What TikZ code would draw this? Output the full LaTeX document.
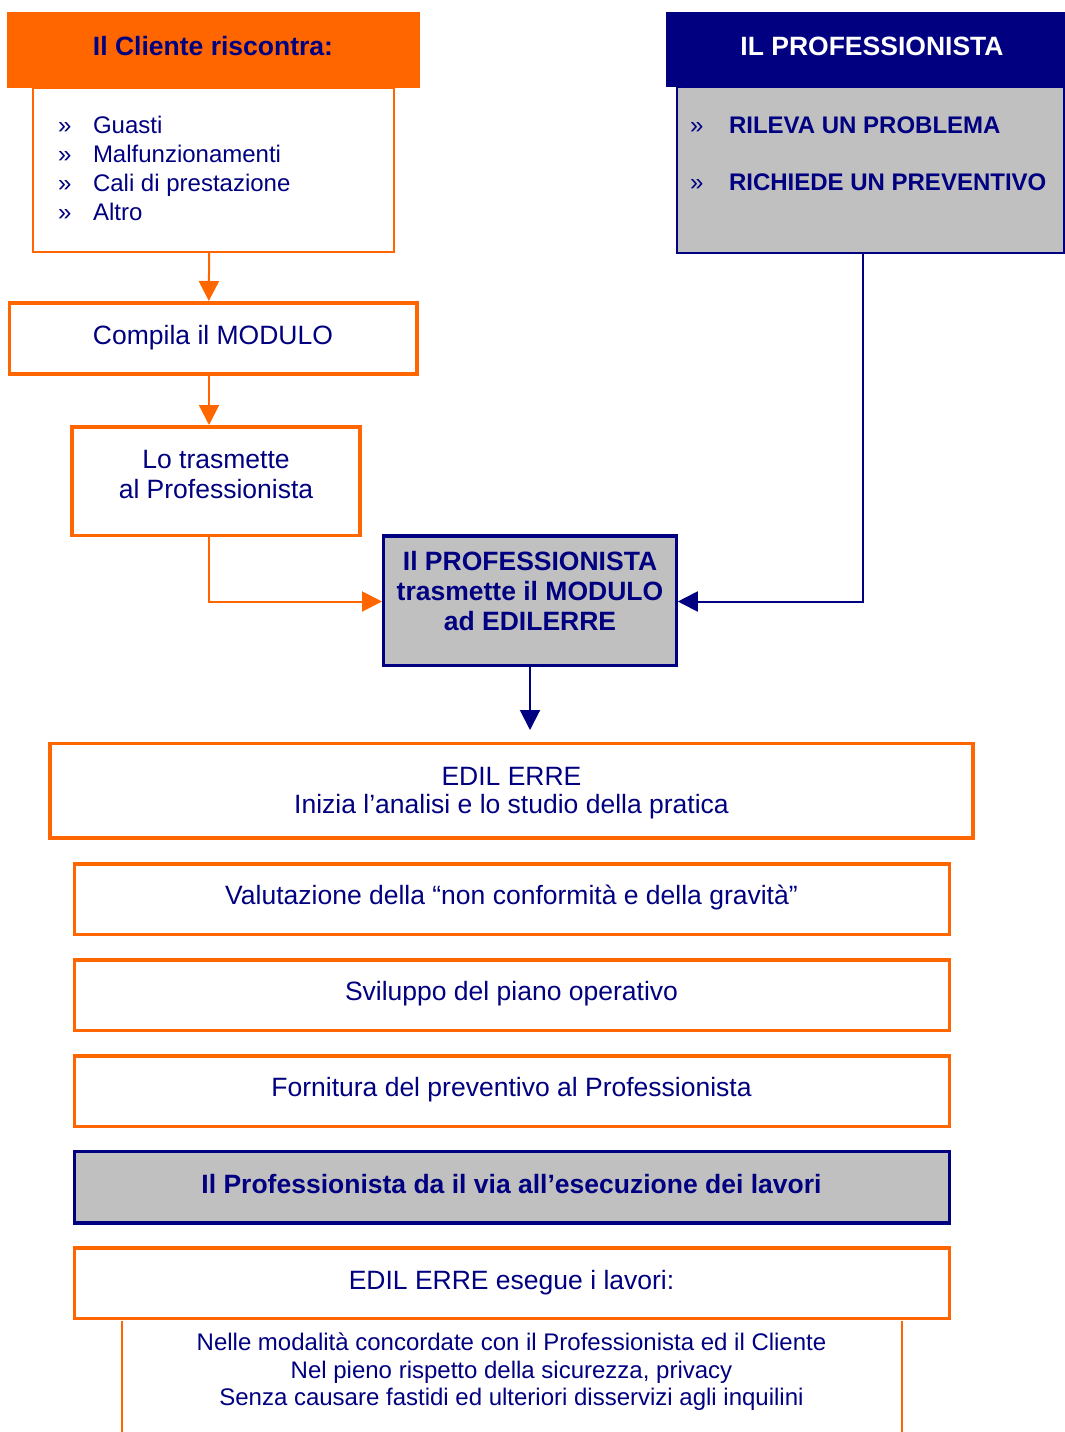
\documentclass[tikz,border=0pt]{standalone}
\usepackage{fontspec}
\setmainfont{Liberation Sans}
\usetikzlibrary{arrows.meta}
\definecolor{org}{HTML}{FF6600}
\definecolor{nav}{HTML}{000080}
\definecolor{gry}{HTML}{C0C0C0}
\begin{document}
\begin{tikzpicture}[x=1pt,y=-1pt,
  every node/.style={inner sep=0pt, outer sep=0pt},
  obox/.style={draw=org, line width=3.5pt, fill=white},
  nbox/.style={draw=nav, line width=3.5pt, fill=gry},
  txt/.style={anchor=base, text=nav, font=\fontsize{26.5}{30}\selectfont},
  btxt/.style={anchor=base, text=nav, font=\fontsize{26.5}{30}\selectfont\bfseries},
  stxt/.style={anchor=base, text=nav, font=\fontsize{24}{28}\selectfont},
  ltxt/.style={anchor=base west, text=nav, font=\fontsize{24}{29}\selectfont},
  lbtxt/.style={anchor=base west, text=nav, font=\fontsize{24}{29}\selectfont\bfseries},
  oarr/.style={org, line width=2pt, -{Triangle[width=20pt,length=20pt]}},
  narr/.style={nav, line width=2pt, -{Triangle[width=20pt,length=20pt]}}
]
\useasboundingbox (0,0) rectangle (1065,1432);

% ---- Cliente column
\node[draw=org, line width=2pt, fill=white, minimum width=360.7pt, minimum height=164.6pt] (list) at (213.7,170) {};
\node[fill=org, minimum width=412.7pt, minimum height=76pt] (chead) at (213.7,49.7) {};
\node[btxt] (cheadt) at (213,55) {Il Cliente riscontra:};
\node[ltxt] (b1) at (58,133) {»};
\node[ltxt] (l1) at (93,133) {Guasti};
\node[ltxt] (b2) at (58,162) {»};
\node[ltxt] (l2) at (93,162) {Malfunzionamenti};
\node[ltxt] (b3) at (58,191) {»};
\node[ltxt] (l3) at (93,191) {Cali di prestazione};
\node[ltxt] (b4) at (58,220) {»};
\node[ltxt] (l4) at (93,220) {Altro};

\node[obox, minimum width=407.5pt, minimum height=71pt] (comp) at (213.25,338.5) {};
\node[txt] (compt) at (213,344) {Compila il MODULO};

\node[obox, minimum width=288pt, minimum height=108.5pt] (lo) at (216,481.25) {};
\node[txt] (lot1) at (216,468.3) {Lo trasmette};
\node[txt] (lot2) at (216,498.3) {al Professionista};

% ---- Professionista column
\node[draw=nav, line width=1.7pt, fill=gry, minimum width=387.3pt, minimum height=165.4pt] (pbox) at (870.35,170) {};
\node[fill=nav, minimum width=400pt, minimum height=75.6pt] (phead) at (866,49.5) {};
\node[btxt, text=white] (pheadt) at (872,55) {IL PROFESSIONISTA};
\node[ltxt] (pb1) at (690,133.3) {»};
\node[lbtxt] (pl1) at (729,133.3) {RILEVA UN PROBLEMA};
\node[ltxt] (pb2) at (690,190.7) {»};
\node[lbtxt] (pl2) at (729,190.7) {RICHIEDE UN PREVENTIVO};

% ---- central box
\node[nbox, minimum width=292.8pt, minimum height=129.5pt] (ctr) at (529.9,600.75) {};
\node[btxt] (ctr1) at (530,570) {Il PROFESSIONISTA};
\node[btxt] (ctr2) at (530,600) {trasmette il MODULO};
\node[btxt] (ctr3) at (530,630) {ad EDILERRE};
\coordinate (ctrend) at (530,730);

% ---- lower boxes
\node[obox, minimum width=923pt, minimum height=94.3pt] (edil) at (511.5,790.85) {};
\node[txt] (edil1) at (511.5,785) {EDIL ERRE};
\node[txt] (edil2) at (511.5,813.3) {Inizia l’analisi e lo studio della pratica};

\node[obox, minimum width=875pt, minimum height=70.5pt] (valu) at (512,899.25) {};
\node[txt] (valut) at (511.5,904) {Valutazione della “non conformità e della gravità”};

\node[obox, minimum width=875pt, minimum height=70.5pt] (svil) at (512,995.25) {};
\node[txt] (svilt) at (511.5,1000) {Sviluppo del piano operativo};

\node[obox, minimum width=875pt, minimum height=70.5pt] (forn) at (512,1091.25) {};
\node[txt] (fornt) at (511.5,1096) {Fornitura del preventivo al Professionista};

\node[nbox, minimum width=875pt, minimum height=71.7pt] (via) at (512,1187.15) {};
\node[btxt] (viat) at (511.5,1193.3) {Il Professionista da il via all’esecuzione dei lavori};

\node[obox, minimum width=875pt, minimum height=70.7pt] (eseg) at (512,1283.35) {};
\node[txt] (esegt) at (511.5,1289) {EDIL ERRE esegue i lavori:};

\draw[org, line width=2pt] (122,1320.5) -- (122,1433);
\draw[org, line width=2pt] (902,1320.5) -- (902,1433);
\node[stxt] (n1) at (511.5,1350) {Nelle modalità concordate con il Professionista ed il Cliente};
\node[stxt] (n2) at (511.5,1378.3) {Nel pieno rispetto della sicurezza, privacy};
\node[stxt] (n3) at (511.5,1405.7) {Senza causare fastidi ed ulteriori disservizi agli inquilini};

% ---- connectors
\draw[oarr] ([xshift=-4.5pt]list.south) -- ([xshift=-4.5pt,yshift=2pt]comp.north);
\draw[oarr] ([xshift=-4.25pt,yshift=-2pt]comp.south) -- ([xshift=-4.25pt,yshift=2pt]comp.south |- lo.north);
\draw[oarr] ([xshift=-7pt]lo.south) |- ([xshift=-1.5pt,yshift=-0.75pt]ctr.west);
\draw[narr] ([xshift=-7.65pt]pbox.south) |- ([xshift=1.5pt,yshift=-0.75pt]ctr.east);
\draw[narr] (ctr.south -| ctrend) -- (ctrend);
\end{tikzpicture}
\end{document}
